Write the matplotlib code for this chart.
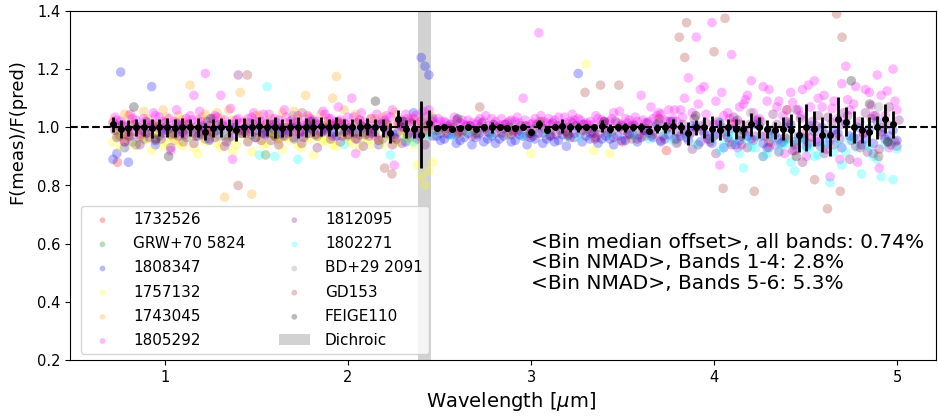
import numpy as np
import matplotlib
matplotlib.use("Agg")
import matplotlib.pyplot as plt

# ---------------- binned medians ----------------
bin_wave_a = [0.716, 0.758, 0.800, 0.842, 0.884, 0.927, 0.969, 1.011, 1.053, 1.095,
              1.137, 1.179, 1.221, 1.263, 1.305, 1.348, 1.390, 1.432, 1.474, 1.516,
              1.558, 1.600, 1.642, 1.684, 1.726, 1.769, 1.811, 1.853, 1.895, 1.937,
              1.979, 2.021, 2.063, 2.105, 2.147, 2.190, 2.232, 2.274, 2.316, 2.358,
              2.400, 2.442]
bin_wave_b = [2.484, 2.527, 2.570, 2.613, 2.656, 2.699, 2.742, 2.785, 2.828, 2.871,
              2.914, 2.957, 3.000, 3.043, 3.086, 3.129, 3.172, 3.215, 3.258, 3.301,
              3.344, 3.387, 3.430, 3.473, 3.516, 3.559, 3.602, 3.645, 3.688, 3.731,
              3.774, 3.817, 3.860, 3.903, 3.946, 3.989, 4.032, 4.075, 4.118, 4.161,
              4.204, 4.247, 4.290, 4.333, 4.376, 4.419, 4.462, 4.505, 4.548, 4.591,
              4.634, 4.677, 4.720, 4.763, 4.806, 4.849, 4.892, 4.935, 4.978]
# median ratio - 1, in units of 0.001
bin_med_a = [10, -5, -3, 0, 0, -3, 0, 0, -3, 0,
             0, 0, -15, -3, 0, -3, -8, 0, 0, 3,
             0, 0, -3, 0, 0, 0, 0, 3, 0, 3,
             0, 0, 0, 3, 0, -3, -20, 30, -5, -5,
             -25, 15]
bin_med_b = [-3, 0, -5, -3, 0, -5, 0, 0, 0, -3,
             -3, 0, -15, 10, -8, 0, 5, 0, 0, 0,
             0, 5, -5, 0, 0, 0, 0, -12, -3, 0,
             3, 0, -20, 0, 0, -5, -10, 0, -5, -5,
             10, 0, -5, -10, -5, -10, -25, 0, -5, -25,
             -25, 30, 20, 0, -10, -15, 0, 30, 10]
# error bars, units of 0.001
bin_err_a = [25, 30, 28, 30, 30, 32, 30, 32, 30, 32,
             30, 32, 30, 30, 32, 30, 38, 32, 30, 32,
             30, 35, 30, 30, 35, 32, 30, 32, 30, 32,
             30, 30, 30, 30, 30, 30, 35, 28, 30, 30,
             115, 45]
bin_err_b = [10, 8, 10, 8, 8, 8, 12, 18, 8, 10,
             8, 10, 10, 15, 10, 10, 25, 15, 15, 10,
             12, 20, 15, 12, 15, 12, 15, 10, 15, 20,
             25, 20, 40, 25, 35, 45, 35, 30, 35, 30,
             40, 35, 30, 30, 40, 55, 60, 80, 60, 60,
             75, 75, 50, 55, 45, 50, 40, 50, 45]

# ---------------- individual measurements (ratio - 1, units of 0.001) ----------------
# values on the bin wavelength grid (band A: 42, band B: 59)
m1805292_a1 = [15, 20, -10, 25, 30, 10, 35, 5, 20, -20,
               40, 25, 185, 30, 110, 10, 25, -5, 35, 20,
               15, 30, 0, 20, 40, 10, 25, -15, 30, 20,
               15, 100, 25, 10, -30, 20, 35, 15, 45, 30,
               20, 60]
m1805292_a2 = [25, 5, 30, -25, 15, 40, 20, -80, 10, 30,
               110, 20, 5, 35, 25, -110, 15, 30, 20, 45,
               10, 25, 35, -5, 15, 30, 20, 45, 10, 25,
               35, -90, 20, 30, 15, 40, -130, 25, 20, 10,
               35, 20]
m1805292_a3 = [35, 10, 45, 5, 20, 50, -5, 30, 60, 15,
               25, 55, -15, 40, 10, 65, 30, 0, 50, 20,
               45, 5, 60, 25, -20, 40, 15, 55, 30, 70,
               10, 35, 50, -10, 45, 25, 60, 5, 30, 40,
               55, 25]
m1805292_b1 = [10, 20, 5, 15, 25, 10, 20, 30, 5, 15,
               20, 100, 10, 325, 15, 25, 10, 20, 30, 15,
               10, 25, 20, 15, 30, 10, 110, 20, 40, 25,
               30, 60, 170, 310, 140, 360, -130, 50, 20, 80,
               160, 30, 90, -60, 40, 120, 60, -100, 160, 70,
               -170, 30, 210, 80, -60, 120, 180, 40, 200]
m1805292_b2 = [20, 5, 25, 10, 15, 30, 5, 20, 10, 25,
               15, 5, 30, 20, 10, 35, 15, 25, 10, 20,
               30, 15, 50, 10, 25, 20, 15, 30, 45, 60,
               20, 100, 50, 130, -40, 90, 40, 250, 70, 110,
               20, 140, -50, 90, 60, -80, 130, 70, 100, -60,
               90, 150, 60, -120, 130, 40, 110, -70, 60]
m1805292_b3 = [30, 15, 35, 25, 5, 20, 40, 10, 30, 20,
               35, 25, 15, 40, 30, 5, 35, 45, 25, 10,
               40, 20, 30, 55, 15, 35, 25, 70, 50, 20,
               60, 35, -20, 80, 45, 10, 120, 30, -70, 95,
               50, -30, 130, 70, -90, 85, 40, 145, -40, 110,
               65, -110, 95, 140, -20, 75, -140, 125, 90]

m1812095_a1 = [-10, 5, -30, 0, -20, 10, -40, -5, 15, -25,
               0, -15, 20, -35, 5, -10, 180, -20, 10, -45,
               -5, 15, -30, 0, -15, 10, -25, 5, -40, 15,
               -10, -20, 5, -30, 10, -5, -60, 20, -25, -10,
               -15, 5]
m1812095_a2 = [5, -25, 10, -10, -35, 0, 15, -20, -5, 10,
               -30, 5, -15, 10, -50, 0, -20, 15, -10, -25,
               10, -5, -20, 15, -35, -5, 10, -15, 5, -30,
               0, 15, -25, -5, 10, -20, -40, 0, 15, -30,
               5, -10]
m1812095_a3 = [-35, -50, -15, -60, 0, -45, -20, -70, -30, -5,
               -55, -25, -40, 5, -65, -30, -10, -50, -35, -20,
               -45, -60, 0, -35, -55, -20, -70, -10, -30, -50,
               -25, -40, -65, -15, -45, 10, -35, -55, -20, -40,
               -60, -30]
m1812095_b1 = [-10, -20, 0, -15, 5, -25, -5, 10, -20, 0,
               -15, 5, -30, 10, -10, -25, 0, 15, -20, -5,
               -35, 10, -15, 0, -25, 5, -10, -30, 15, -5,
               -40, 10, -20, -60, 15, -30, 0, -50, 25, -15,
               -45, 20, -70, 10, -35, -80, 30, -55, 5, -90,
               15, -40, 40, -65, -20, 30, -75, 10, -50]
m1812095_b2 = [0, 10, -15, 5, -10, 15, -20, 0, 10, -15,
               5, -20, 10, -5, 15, -10, -25, 5, 10, -15,
               0, -20, 20, -10, 5, -25, 15, 0, -30, 20,
               -15, -35, 30, -10, -50, 20, -25, 35, -60, 10,
               25, -30, 45, -55, 15, 60, -40, 20, -65, 35,
               -25, 50, -45, 20, -85, 40, 0, -60, 25]
m1812095_b3 = [-20, -5, -25, -10, -30, 0, -15, -20, -5, -25,
               -10, -30, -5, -20, -25, 5, -15, -35, -10, -20,
               -25, -10, -35, 5, -20, -40, -5, -25, -45, 0,
               -55, -20, -75, 5, -40, -90, -15, -60, 10, -70,
               -30, -100, -10, -85, 20, -50, -120, -35, 40, -75,
               -60, 10, -110, -40, 50, -90, -25, 70, -65]

m1757132_a1 = [-50, -70, -30, -60, -45, -80, -35, -55, -25, -65,
               -40, -90, -50, -30, -70, -45, -60, -20, -85, -40,
               -55, -30, -75, -45, -60, -35, -95, -50, -40, -65,
               -30, -55, -70, -45, -25, -60, -40, -50, -35, -60,
               -170, -150]
m1757132_a2 = [-30, -15, -60, -25, -40, -20, -65, -30, -50, -15,
               -70, -35, -20, -55, -30, -80, -25, -45, -30, -60,
               -20, -50, -35, -25, -70, -40, -30, -45, -60, -20,
               -45, -25, -35, -60, -40, -30, -55, -20, -40, -130,
               -200, -120]
m1757132_b1 = [-10, -15, -5, -20, -10, -15, None, None, None, -25,
               None, None, -90, None, None, None, None, None, None, 217,
               -80, None, -90, None, None, None, None, None, None, None,
               None, None, None, None, None, None, None, None, None, None,
               None, None, None, None, None, None, None, None, None, None,
               None, None, None, None, None, None, None, None, None]

m1743045_a1 = [20, -30, 40, 0, 55, -20, 10, 35, -45, 25,
               145, 5, 45, -15, 30, 60, -10, 20, -230, 40,
               15, -25, 50, 0, 30, 110, -10, 45, 20, 175,
               60, 10, 25, -20, 30, 35, 5, 15, -40, 30,
               20, 10]
m1743045_a2 = [-10, 45, 15, -35, 30, 5, 60, -25, 40, 10,
               -20, 35, 0, 50, -240, 25, 120, -15, 40, 5,
               30, -40, 15, 55, -5, 35, -30, 20, 100, 10,
               -25, 45, 0, 30, -45, 15, 50, -10, 25, 0,
               -15, 35]

m1808347_a1 = [-110, 190, -120, -60, -40, 140, -30, -10, -25, -15,
               -5, -30, -40, -20, -10, -35, 0, -15, -25, -5,
               -20, -10, -30, -15, 5, -25, -10, -20, 0, -30,
               -15, -5, -25, -10, -20, -40, -30, -15, -50, 50,
               240, 180]
m1808347_a2 = [-90, -70, -50, -30, -20, -60, -10, -25, 5, -35,
               -20, 0, -45, -10, -30, 10, -20, -5, -35, -15,
               0, -25, -10, -40, -15, 0, -30, -5, -20, -10,
               -30, -15, 0, -20, -60, -10, -25, 0, -35, -20,
               210, 30]
m1808347_b1 = [-30, -40, -25, -45, -20, -35, -50, -30, -40, -25,
               -45, -30, -35, -20, -40, -50, -25, -35, 185, -30,
               -20, -40, -40, -30, -45, -25, -35, -20, 10, -40,
               20, -30, -45, 0, -20, -55, 15, -35, -60, -10,
               -40, 5, -70, -25, -50, 10, -30, -65, -15, 0,
               -45, -20, 15, -35, -60, -5, 20, -40, -10]
m1808347_b2 = [-45, -25, -55, -35, -60, -20, -40, -55, -30, -50,
               -25, -60, -40, -55, -30, -45, -65, -20, -50, -40,
               -55, -30, -60, -45, -25, -50, -10, -35, -50, -25,
               -40, -10, 5, -50, -30, -25, -70, -5, -45, -30,
               10, -55, -20, -40, 0, -60, -35, 5, -50, -25,
               -10, -70, -30, 0, -40, -55, -15, -30, -45]

m1802271_a1 = [None, None, None, None, None, None, None, None, None, None,
               None, None, None, None, None, None, None, None, None, -95,
               140, -100, None, None, -110, None, None, None, None, None,
               -60, None, None, None, None, None, -95, None, -40, -50,
               None, -30]
m1802271_b1 = [-20, None, -30, None, -15, None, None, -25, None, None,
               None, -30, None, None, -20, None, None, None, -35, None,
               None, None, -25, None, None, -30, None, -40, None, -20,
               -45, None, -30, -60, None, -40, -80, -25, -55, -140,
               -70, -35, -90, -50, -60, -120, -45, -75, -100, -65,
               -190, -55, -85, -40, -160, -70, -110, -60, -180]
m1802271_b2 = [None, None, None, None, None, None, None, None, None, None,
               None, None, None, None, None, None, None, None, None, None,
               None, None, None, None, None, None, None, None, None, None,
               None, None, None, None, None, None, -60, -30, -90, -45,
               -70, -100, -35, -80, -55, -150, -40, -65, -95, -50,
               -85, -130, -45, -70, -60, -100, -170, -50, -75]

# sparse stars: explicit wavelength / ratio pairs
w1732526 = [0.74, 0.78, 1.20, 1.90, 2.60, 2.90, 3.10, 3.35, 3.50, 3.62, 3.74, 4.10, 4.50]
r1732526 = [0.88, 0.95, 0.98, 1.01, 0.98, 0.99, 0.97, 0.96, 0.95, 0.97, 0.92, 1.01, 0.98]
wGRW = [0.75, 1.55, 2.00, 2.70, 3.20, 3.90, 4.40]
rGRW = [0.97, 0.905, 0.99, 0.98, 0.97, 1.00, 0.96]
wBD29 = [0.90, 1.30, 1.70, 2.10, 2.90, 3.30, 3.80, 3.98, 4.20, 4.45, 4.60, 4.90]
rBD29 = [1.02, 0.97, 1.04, 0.98, 1.01, 0.99, 0.95, 0.96, 1.05, 0.93, 0.98, 1.07]
wGD153 = [0.80, 1.10, 1.25, 1.40, 1.45, 1.75, 1.95, 2.05, 2.20, 2.24,
          2.72, 3.05, 3.20, 3.295, 3.38, 3.48, 3.55, 3.70, 3.81, 3.84,
          3.85, 4.00, 4.05, 4.06, 4.22, 4.30, 4.40, 4.55, 4.62, 4.67,
          4.69, 4.70, 4.80, 4.90, 4.95]
rGD153 = [0.97, 0.95, 0.99, 0.80, 1.18, 1.05, 1.02, 0.96, 0.86, 0.84,
          1.07, 1.02, 0.98, 1.12, 1.145, 1.145, 0.96, 1.03, 1.31, 1.24,
          1.36, 1.26, 0.79, 1.375, 0.78, 0.95, 1.06, 0.82, 0.72, 1.39,
          0.78, 1.31, 0.93, 0.90, 0.95]
wFEIGE = [0.83, 0.95, 1.02, 1.25, 1.60, 1.80, 2.15, 2.30, 2.60, 3.00,
          3.40, 3.90, 4.15, 4.45, 4.75, 4.85, 4.95]
rFEIGE = [1.07, 0.96, 0.90, 1.03, 0.97, 1.02, 1.09, 1.02, 1.03, 0.98,
          1.02, 1.04, 0.97, 0.90, 1.16, 1.08, 0.95]

star_names = ["1732526", "GRW+70 5824", "1808347", "1757132", "1743045", "1805292",
              "1812095", "1802271", "BD+29 2091", "GD153", "FEIGE110"]
star_colors = ["red", "green", "blue", "yellow", "orange", "magenta",
               "purple", "cyan", "grey", "brown", "black"]

dichroic = (2.383, 2.454)
stats_text = ("<Bin median offset>, all bands: 0.74%\n"
              "<Bin NMAD>, Bands 1-4: 2.8%\n"
              "<Bin NMAD>, Bands 5-6: 5.3%")

# ---------------- assemble ----------------
wa = np.array(bin_wave_a)
wb = np.array(bin_wave_b)
ha = (wa[1] - wa[0]) / 2
hb = (wb[1] - wb[0]) / 2


def ratio(vals):
    return 1.0 + np.array(vals, dtype=float) / 1000.0


star_points = {
    "1732526": (np.array(w1732526), np.array(r1732526)),
    "GRW+70 5824": (np.array(wGRW), np.array(rGRW)),
    "1808347": (np.concatenate([wa, wa + ha, wb, wb + hb]),
                np.concatenate([ratio(m1808347_a1), ratio(m1808347_a2),
                                ratio(m1808347_b1), ratio(m1808347_b2)])),
    "1757132": (np.concatenate([wa, wa + ha, wb]),
                np.concatenate([ratio(m1757132_a1), ratio(m1757132_a2), ratio(m1757132_b1)])),
    "1743045": (np.concatenate([wa, wa + ha]),
                np.concatenate([ratio(m1743045_a1), ratio(m1743045_a2)])),
    "1805292": (np.concatenate([wa, wa + ha, wa + 0.5 * ha, wb, wb + hb, wb + 0.5 * hb]),
                np.concatenate([ratio(m1805292_a1), ratio(m1805292_a2), ratio(m1805292_a3),
                                ratio(m1805292_b1), ratio(m1805292_b2), ratio(m1805292_b3)])),
    "1812095": (np.concatenate([wa + 0.5 * ha, wa + 1.5 * ha, wa + ha,
                                wb + 0.5 * hb, wb + 1.5 * hb, wb + hb]),
                np.concatenate([ratio(m1812095_a1), ratio(m1812095_a2), ratio(m1812095_a3),
                                ratio(m1812095_b1), ratio(m1812095_b2), ratio(m1812095_b3)])),
    "1802271": (np.concatenate([wa, wb, wb + hb]),
                np.concatenate([ratio(m1802271_a1), ratio(m1802271_b1), ratio(m1802271_b2)])),
    "BD+29 2091": (np.array(wBD29), np.array(rBD29)),
    "GD153": (np.array(wGD153), np.array(rGD153)),
    "FEIGE110": (np.array(wFEIGE), np.array(rFEIGE)),
}

bin_x = np.concatenate([wa, wb])
bin_y = np.concatenate([ratio(bin_med_a), ratio(bin_med_b)])
bin_e = np.concatenate([np.array(bin_err_a), np.array(bin_err_b)]) / 1000.0

# ---------------- plot ----------------
fig = plt.figure(figsize=(9.38, 4.19), dpi=100)
ax = fig.add_axes([70 / 938, 59 / 419, 866 / 938, 349 / 419])

handles = []
for name, col in zip(star_names, star_colors):
    x, y = star_points[name]
    h = ax.scatter(x, y, s=48, color=col, alpha=0.27, edgecolors="none", label=name, zorder=2)
    handles.append(h)

span = ax.axvspan(dichroic[0], dichroic[1], color="grey", alpha=0.35, lw=0, label="Dichroic", zorder=1)
handles.append(span)

ax.axhline(1.0, color="black", ls="--", lw=1.5, zorder=4)
ax.errorbar(bin_x, bin_y, yerr=bin_e, xerr=0.013, fmt="o", color="black",
            ms=4, elinewidth=2, capsize=0, zorder=5)

ax.set_xlim(0.481, 5.213)
ax.set_ylim(0.2, 1.4)
ax.set_xticks([1, 2, 3, 4, 5])
ax.set_yticks([0.2, 0.4, 0.6, 0.8, 1.0, 1.2, 1.4])
ax.tick_params(labelsize=10.5)
ax.set_xlabel(r"Wavelength [$\mu$m]", fontsize=14)
ax.set_ylabel("F(meas)/F(pred)", fontsize=13)
ax.yaxis.set_label_coords(-0.05, 0.655)
ax.xaxis.set_label_coords(0.509, -0.085)

ax.text(3.0, 0.535, stats_text, fontsize=14.5, ha="left", va="center", linespacing=1.1)

ax.legend(handles=handles, loc="lower left", ncol=2, fontsize=11, markerscale=0.6,
          labelspacing=0.6, handletextpad=1.0, columnspacing=2.2,
          bbox_to_anchor=(0.004, -0.005))

fig.savefig("out.png", dpi=100)
